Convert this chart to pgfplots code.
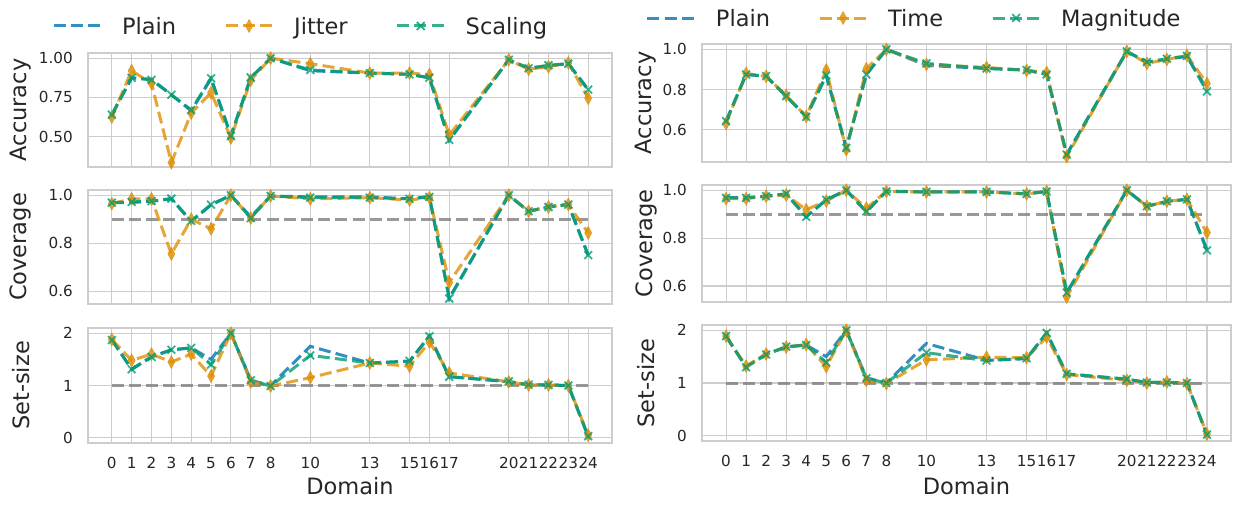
\documentclass[border=0pt]{standalone}
\usepackage{pgfplots}
\usepackage{pgfplotstable}
\pgfplotsset{compat=1.18}
\usepackage{fontspec}
\setmainfont{DejaVu Sans}

\definecolor{cblue}{HTML}{0173B2}
\definecolor{corange}{HTML}{DE8F05}
\definecolor{cgreen}{HTML}{029E73}
\definecolor{gridc}{HTML}{CDCDCD}
\definecolor{txt}{HTML}{262626}
\definecolor{thr}{HTML}{7F7F7F}

% Accuracy
\pgfplotstableread{
x  plain jitter scaling time magnitude
0  0.640 0.625 0.640 0.630 0.642
1  0.875 0.920 0.875 0.880 0.875
2  0.865 0.840 0.862 0.865 0.867
3  0.767 0.335 0.767 0.770 0.767
4  0.665 0.650 0.670 0.665 0.663
5  0.870 0.780 0.872 0.897 0.870
6  0.508 0.492 0.504 0.500 0.508
7  0.875 0.860 0.877 0.903 0.875
8  1.000 1.000 1.000 1.000 1.000
10 0.920 0.965 0.925 0.925 0.930
13 0.905 0.905 0.905 0.910 0.905
15 0.897 0.905 0.897 0.895 0.897
16 0.875 0.895 0.875 0.885 0.875
17 0.477 0.510 0.480 0.465 0.475
20 0.990 0.990 0.990 0.990 0.990
21 0.935 0.930 0.936 0.930 0.937
22 0.952 0.945 0.955 0.950 0.953
23 0.965 0.970 0.965 0.970 0.967
24 0.800 0.745 0.800 0.830 0.790
}\acc

% Coverage
\pgfplotstableread{
x  plain jitter scaling time magnitude
0  0.969 0.965 0.969 0.965 0.968
1  0.970 0.985 0.972 0.965 0.968
2  0.975 0.985 0.976 0.975 0.975
3  0.985 0.755 0.986 0.980 0.985
4  0.890 0.900 0.893 0.919 0.889
5  0.960 0.860 0.961 0.955 0.960
6  1.000 1.000 1.000 1.000 1.000
7  0.910 0.905 0.905 0.925 0.912
8  0.997 0.997 0.997 0.995 0.995
10 0.993 0.985 0.990 0.993 0.993
13 0.993 0.990 0.990 0.993 0.993
15 0.985 0.980 0.985 0.985 0.985
16 0.995 0.990 0.993 0.995 0.995
17 0.570 0.636 0.569 0.554 0.572
20 1.000 1.000 1.000 1.000 1.000
21 0.933 0.933 0.933 0.933 0.933
22 0.953 0.951 0.951 0.954 0.954
23 0.962 0.961 0.961 0.962 0.962
24 0.750 0.843 0.750 0.823 0.749
}\cov

% Set-size
\pgfplotstableread{
x  plain jitter scaling time magnitude
0  1.880 1.880 1.870 1.890 1.890
1  1.310 1.480 1.310 1.320 1.300
2  1.550 1.600 1.546 1.550 1.540
3  1.680 1.450 1.685 1.680 1.690
4  1.720 1.600 1.720 1.730 1.720
5  1.500 1.180 1.400 1.310 1.390
6  2.000 2.000 2.000 2.000 2.000
7  1.100 1.070 1.100 1.050 1.090
8  1.000 0.990 0.990 0.990 1.000
10 1.750 1.150 1.577 1.440 1.575
13 1.430 1.430 1.430 1.490 1.425
15 1.460 1.370 1.470 1.480 1.470
16 1.950 1.830 1.940 1.870 1.950
17 1.170 1.240 1.167 1.160 1.175
20 1.070 1.070 1.080 1.050 1.075
21 1.010 1.010 1.016 1.000 1.010
22 1.010 1.010 1.010 1.020 1.010
23 1.000 1.000 1.000 0.990 1.000
24 0.020 0.050 0.030 0.030 0.020
}\setsize

\pgfplotsset{
  panel/.style={
    scale only axis, anchor=south west,
    xmin=-1.2, xmax=25.2,
    xtick={0,1,2,3,4,5,6,7,8,10,13,15,16,17,20,21,22,23,24},
    grid=major,
    major grid style={draw=gridc, line width=1.1pt},
    axis line style={draw=gridc, line width=1.4pt},
    major tick length=0pt,
    scaled ticks=false,
    /pgf/number format/assume math mode=true,
    tick label style={font=\fontsize{15.2}{18}\selectfont, text=txt},
    yticklabel style={inner sep=0pt, xshift=-15pt},
    xticklabel style={inner sep=0pt, yshift=-14.5pt},
    label style={font=\fontsize{22.5}{27}\selectfont, text=txt},
    legend image code/.code={\draw[mark repeat=2,mark phase=2,##1] plot coordinates {(0pt,0pt) (23.5pt,0pt) (47pt,0pt)};},
  },
  dsh/.style={line width=3pt, dash pattern=on 12pt off 5.2pt, opacity=0.8},
  plainS/.style={dsh, cblue, no markers},
  jitS/.style={dsh, corange, mark=diamond*, mark size=6.5pt, mark options={solid, xscale=0.72, line width=0.6pt, fill=corange}},
  scaS/.style={dsh, cgreen, mark=x, mark size=5.5pt, mark options={solid, line width=1.8pt}},
  thrS/.style={thr, line width=3pt, dash pattern=on 12pt off 5.2pt, opacity=0.8, no markers, forget plot},
  leg/.style={
    legend columns=3,
    legend cell align=left,
    legend style={draw=none, fill=none, inner sep=0pt, outer sep=0pt,
      at={(#1)}, anchor=west,
      nodes={inner sep=0pt, text depth=0pt, font=\fontsize{22.5}{27}\selectfont, text=txt},
      /tikz/every odd column/.append style={column sep=20pt},
      /tikz/every even column/.append style={column sep=48pt}},
  },
}

\begin{document}
\begin{tikzpicture}
\path[use as bounding box] (0pt,0pt) rectangle (1233pt,504pt);

% ---------------- Left column ----------------
\begin{axis}[panel, at={(88pt,337pt)}, width=524pt, height=114pt,
  ymin=0.307, ymax=1.033, ytick={0.5,0.75,1.0},
  yticklabel style={/pgf/number format/fixed, /pgf/number format/fixed zerofill, /pgf/number format/precision=2},
  xticklabels={},
  ylabel={Accuracy}, ylabel style={at={(axis description cs:-0.128,0.5)}, anchor=center},
  leg={-0.0687,1.2368}]
\addplot[plainS] table[x=x, y=plain] {\acc};
\addlegendentry{Plain}
\addplot[jitS] table[x=x, y=jitter] {\acc};
\addlegendentry{Jitter}
\addplot[scaS] table[x=x, y=scaling] {\acc};
\addlegendentry{Scaling}
\end{axis}

\begin{axis}[panel, at={(88pt,200pt)}, width=524pt, height=114pt,
  ymin=0.546, ymax=1.022, ytick={0.6,0.8,1.0},
  yticklabel style={/pgf/number format/fixed, /pgf/number format/fixed zerofill, /pgf/number format/precision=1},
  xticklabels={},
  ylabel={Coverage}, ylabel style={at={(axis description cs:-0.128,0.5)}, anchor=center}]
\addplot[thrS] coordinates {(0,0.9) (24,0.9)};
\addplot[plainS] table[x=x, y=plain] {\cov};
\addplot[jitS] table[x=x, y=jitter] {\cov};
\addplot[scaS] table[x=x, y=scaling] {\cov};
\end{axis}

\begin{axis}[panel, at={(88pt,61pt)}, width=524pt, height=115pt,
  ymin=-0.1, ymax=2.1, ytick={0,1,2},
  ylabel={Set-size}, ylabel style={at={(axis description cs:-0.128,0.5)}, anchor=center},
  xlabel={Domain}, xlabel style={at={(axis description cs:0.5,0)}, anchor=base, yshift=-51.7pt}]
\addplot[thrS] coordinates {(0,1) (24,1)};
\addplot[plainS] table[x=x, y=plain] {\setsize};
\addplot[jitS] table[x=x, y=jitter] {\setsize};
\addplot[scaS] table[x=x, y=scaling] {\setsize};
\end{axis}

% ---------------- Right column ----------------
\begin{axis}[panel, at={(702pt,342pt)}, width=529pt, height=118pt,
  ymin=0.438, ymax=1.027, ytick={0.6,0.8,1.0},
  yticklabel style={/pgf/number format/fixed, /pgf/number format/fixed zerofill, /pgf/number format/precision=1},
  xticklabels={},
  ylabel={Accuracy}, ylabel style={at={(axis description cs:-0.1059,0.5)}, anchor=center},
  leg={-0.1059,1.2203}]
\addplot[plainS] table[x=x, y=plain] {\acc};
\addlegendentry{Plain}
\addplot[jitS] table[x=x, y=time] {\acc};
\addlegendentry{Time}
\addplot[scaS] table[x=x, y=magnitude] {\acc};
\addlegendentry{Magnitude}
\end{axis}

\begin{axis}[panel, at={(702pt,202pt)}, width=529pt, height=117pt,
  ymin=0.533, ymax=1.022, ytick={0.6,0.8,1.0},
  yticklabel style={/pgf/number format/fixed, /pgf/number format/fixed zerofill, /pgf/number format/precision=1},
  xticklabels={},
  ylabel={Coverage}, ylabel style={at={(axis description cs:-0.1059,0.5)}, anchor=center}]
\addplot[thrS] coordinates {(0,0.9) (24,0.9)};
\addplot[plainS] table[x=x, y=plain] {\cov};
\addplot[jitS] table[x=x, y=time] {\cov};
\addplot[scaS] table[x=x, y=magnitude] {\cov};
\end{axis}

\begin{axis}[panel, at={(702pt,63pt)}, width=529pt, height=116pt,
  ymin=-0.1, ymax=2.1, ytick={0,1,2},
  ylabel={Set-size}, ylabel style={at={(axis description cs:-0.1059,0.5)}, anchor=center},
  xlabel={Domain}, xlabel style={at={(axis description cs:0.5,0)}, anchor=base, yshift=-53.5pt}]
\addplot[thrS] coordinates {(0,1) (24,1)};
\addplot[plainS] table[x=x, y=plain] {\setsize};
\addplot[jitS] table[x=x, y=time] {\setsize};
\addplot[scaS] table[x=x, y=magnitude] {\setsize};
\end{axis}
\end{tikzpicture}
\end{document}
